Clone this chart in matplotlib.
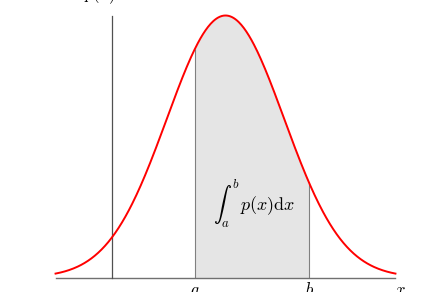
import numpy as np
import matplotlib
matplotlib.use("Agg")
import matplotlib.pyplot as plt

plt.rcParams['mathtext.fontset'] = 'cm'

# curve: gaussian density, drawn over this range
mu = 0.0
sigma = 1.0
x_lo, x_hi = -2.9, 2.9
a, b = -0.52, 1.43      # integration limits
y_axis_x = -1.94        # where the vertical axis sits

x = np.linspace(x_lo, x_hi, 400)
p = np.exp(-(x - mu) ** 2 / (2 * sigma ** 2))

fig = plt.figure(figsize=(4.39, 2.92), dpi=100)
ax = fig.add_axes([0, 0, 1, 1])
ax.axis('off')

# pixel mapping: x=0 -> 225.5px, 58.6 px per unit; y=0 -> 277.5px from top, 262 px per unit
sx, x0 = 58.6, 225.5
sy, y0 = 262.0, 277.5
ax.set_xlim(-x0 / sx, (439 - x0) / sx)
ax.set_ylim(-(292 - y0) / sy, y0 / sy)

xs = np.linspace(a, b, 200)
ax.fill_between(xs, 0, np.exp(-(xs - mu) ** 2 / (2 * sigma ** 2)), color='#e5e5e5', lw=0)
ax.vlines([a, b], 0, np.exp(-np.array([a, b]) ** 2 / 2), color='#808080', lw=0.8)

ax.plot([x_lo, x_hi], [0, 0], color='#707070', lw=1.0)
ax.plot([y_axis_x, y_axis_x], [0, 1.0], color='#505050', lw=0.9)
ax.plot(x, p, color='red', lw=1.4)

ax.text(0.49, 0.28, r'$\int_a^b\, p(x)\mathrm{d}x$', fontsize=13, ha='center', va='center')
ax.text(a, -0.012, r'$a$', fontsize=12, ha='center', va='top')
ax.text(b, -0.012, r'$b$', fontsize=12, ha='center', va='top')
ax.text(x_hi + 0.08, -0.012, r'$x$', fontsize=12, ha='center', va='top')
ax.text(y_axis_x - 0.2, 1.035, r'$p(x)$', fontsize=12, ha='center', va='bottom')

fig.savefig('out.png', dpi=100)
